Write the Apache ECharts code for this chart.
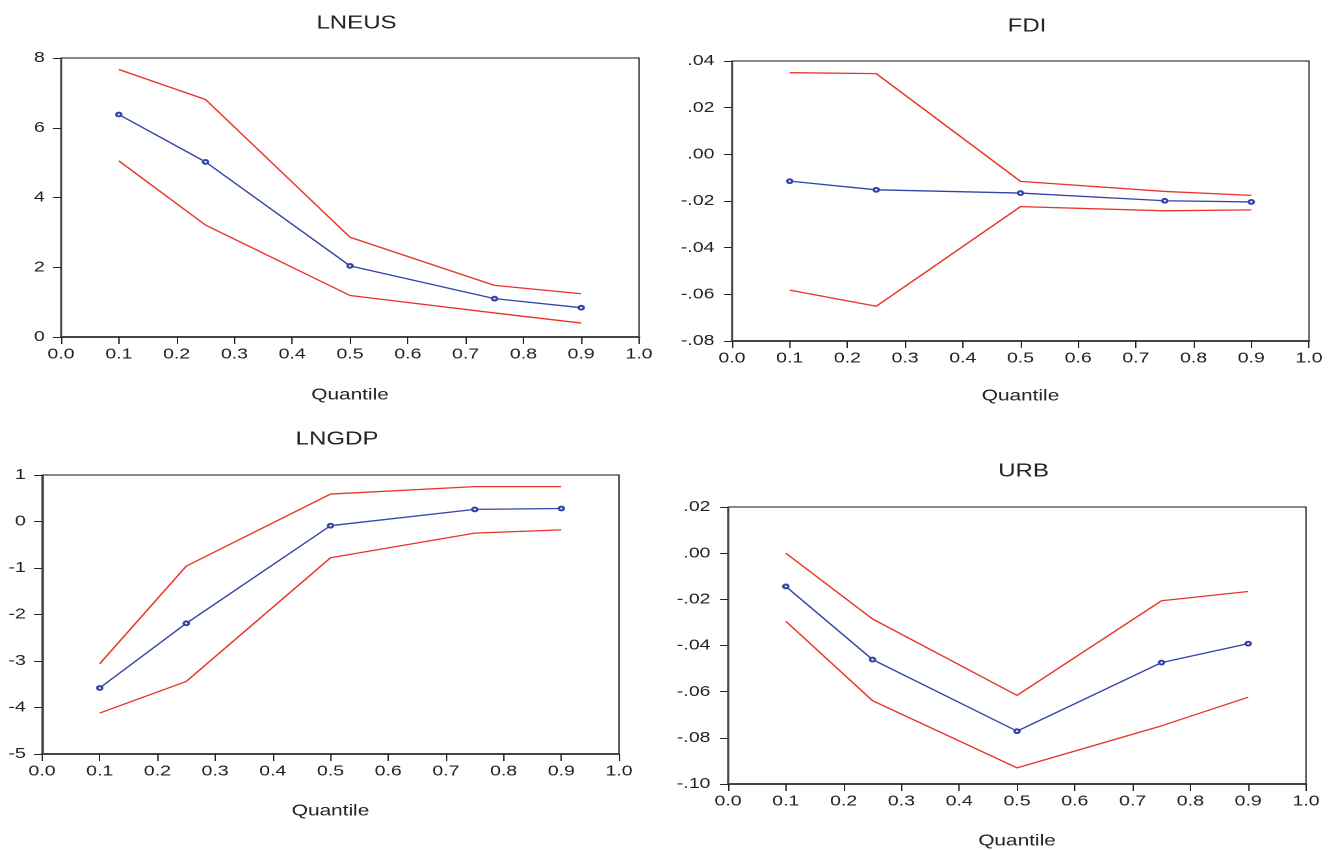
<!DOCTYPE html>
<html>
<head>
<meta charset="utf-8">
<script src="https://cdn.jsdelivr.net/npm/echarts@6/dist/echarts.min.js"></script>
<style>
html,body{margin:0;padding:0;background:#fff;overflow:hidden}
#wrap{width:1338px;height:850px;overflow:hidden}
#c{width:1029px;height:850px;transform:scaleX(1.30029);transform-origin:0 0}
</style>
</head>
<body>
<div id="wrap"><div id="c"></div></div>
<script>
const quantiles = [0.1, 0.25, 0.5, 0.75, 0.9];
const panelTitles = ['LNEUS', 'FDI', 'LNGDP', 'URB'];

const lneusEst   = [6.38, 5.02, 2.04, 1.10, 0.84];
const lneusUpper = [7.67, 6.81, 2.86, 1.48, 1.24];
const lneusLower = [5.05, 3.21, 1.19, 0.69, 0.40];

const fdiEst   = [-0.0115, -0.0152, -0.0166, -0.0199, -0.0204];
const fdiUpper = [0.0350, 0.0346, -0.0116, -0.0159, -0.0176];
const fdiLower = [-0.0582, -0.0651, -0.0224, -0.0242, -0.0238];

const lngdpEst   = [-3.58, -2.19, -0.09, 0.26, 0.28];
const lngdpUpper = [-3.06, -0.96, 0.59, 0.75, 0.75];
const lngdpLower = [-4.12, -3.44, -0.78, -0.25, -0.18];

const urbEst   = [-0.0144, -0.0461, -0.0771, -0.0474, -0.0392];
const urbUpper = [0.0000, -0.0285, -0.0616, -0.0206, -0.0166];
const urbLower = [-0.0295, -0.0639, -0.0930, -0.0748, -0.0624];

const yRanges = [
  {min: 0, max: 8, interval: 2, dec: false},
  {min: -0.08, max: 0.04, interval: 0.02, dec: true},
  {min: -5, max: 1, interval: 1, dec: false},
  {min: -0.10, max: 0.02, interval: 0.02, dec: true}
];
const panelData = [
  [lneusEst, lneusUpper, lneusLower],
  [fdiEst, fdiUpper, fdiLower],
  [lngdpEst, lngdpUpper, lngdpLower],
  [urbEst, urbUpper, urbLower]
];

// the reference picture is stretched horizontally; the chart is laid out in
// narrower units and the container is scaled by SX
const SX = 1.30029;
const gridsPx = [
  {left: 61, top: 58, width: 578, height: 279},
  {left: 732, top: 61, width: 577, height: 280},
  {left: 42, top: 475, width: 577, height: 279},
  {left: 728, top: 507, width: 578, height: 280}
];
const grids = gridsPx.map(g => ({left: g.left / SX, top: g.top, width: g.width / SX, height: g.height}));
const titleY = [9, 12, 425, 457];
const nameGaps = [50, 47, 49, 49];

const FONT = '"Liberation Sans", Arial, sans-serif';
const txt = '#222';
const blue = '#3344aa';
const red = '#e8352a';

function pairs(ys) { return quantiles.map((q, i) => [q, ys[i]]); }

const option = {
  animation: false,
  backgroundColor: '#fff',
  grid: grids.map(g => Object.assign({show: true, borderColor: '#111', borderWidth: 0.9, backgroundColor: '#fff', containLabel: false}, g)),
  title: panelTitles.map((t, i) => ({
    text: t,
    left: grids[i].left + grids[i].width / 2,
    top: titleY[i],
    textAlign: 'center',
    textStyle: {fontFamily: FONT, fontSize: 18.5, fontWeight: 'normal', color: txt}
  })),
  xAxis: grids.map((g, i) => ({
    type: 'value', gridIndex: i, min: 0, max: 1, interval: 0.1,
    name: 'Quantile', nameLocation: 'middle', nameGap: nameGaps[i],
    nameTextStyle: {fontFamily: FONT, fontSize: 16, color: txt},
    axisLine: {show: true, onZero: false, lineStyle: {color: '#444', width: 2}},
    axisTick: {show: true, length: 7, lineStyle: {color: '#222', width: 1}},
    axisLabel: {fontFamily: FONT, fontSize: 15, color: txt, margin: 10, formatter: v => v.toFixed(1)},
    splitLine: {show: false}
  })),
  yAxis: yRanges.map((r, i) => ({
    type: 'value', gridIndex: i, min: r.min, max: r.max, interval: r.interval,
    axisLine: {show: true, onZero: false, lineStyle: {color: '#444', width: 1.6}},
    axisTick: {show: true, length: 6.2, lineStyle: {color: '#222', width: 1}},
    axisLabel: {fontFamily: FONT, fontSize: 15, color: txt, margin: r.dec ? 13.5 : 12.5,
      formatter: v => r.dec ? v.toFixed(2).replace('0.', '.') : String(Math.round(v))},
    splitLine: {show: false}
  })),
  series: []
};

panelData.forEach((d, i) => {
  option.series.push({
    type: 'line', xAxisIndex: i, yAxisIndex: i, data: pairs(d[1]),
    symbol: 'none', lineStyle: {color: red, width: 1.3}, z: 3
  });
  option.series.push({
    type: 'line', xAxisIndex: i, yAxisIndex: i, data: pairs(d[2]),
    symbol: 'none', lineStyle: {color: red, width: 1.3}, z: 3
  });
  option.series.push({
    type: 'line', xAxisIndex: i, yAxisIndex: i, data: pairs(d[0]),
    symbol: 'emptyCircle', symbolSize: 3.8,
    itemStyle: {color: blue, borderColor: blue, borderWidth: 0.9},
    lineStyle: {color: blue, width: 1.3}, z: 4
  });
});

const chart = echarts.init(document.getElementById('c'), null, {renderer: 'canvas', devicePixelRatio: 2});
chart.setOption(option);
</script>
</body>
</html>
